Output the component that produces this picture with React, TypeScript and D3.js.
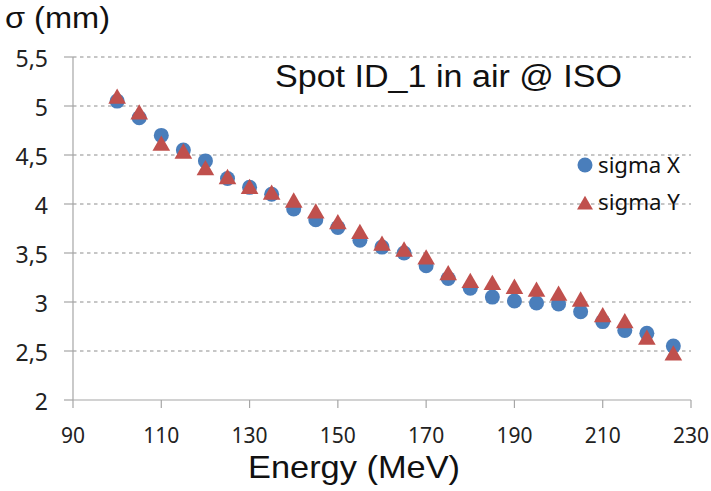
import React from "react";
import * as d3 from "d3";

const energies = [100, 105, 110, 115, 120, 125, 130, 135, 140, 145, 150, 155, 160, 165, 170, 175, 180, 185, 190, 195, 200, 205, 210, 215, 220, 226];
const sigmaX = [5.05, 4.88, 4.70, 4.55, 4.44, 4.26, 4.17, 4.10, 3.95, 3.84, 3.76, 3.63, 3.56, 3.50, 3.37, 3.24, 3.14, 3.05, 3.01, 2.99, 2.98, 2.90, 2.80, 2.71, 2.68, 2.55];
const sigmaY = [5.09, 4.93, 4.61, 4.53, 4.36, 4.27, 4.17, 4.11, 4.03, 3.92, 3.81, 3.71, 3.59, 3.53, 3.45, 3.29, 3.21, 3.19, 3.15, 3.12, 3.08, 3.02, 2.86, 2.80, 2.63, 2.47];
const xTicks = [90, 110, 130, 150, 170, 190, 210, 230];
const yTicks = [2, 2.5, 3, 3.5, 4, 4.5, 5, 5.5];
const seriesNames = ["sigma X", "sigma Y"];

const W = 711;
const H = 491;
const FONT = "'Noto Sans', 'Open Sans', sans-serif";
const ARIAL = "'Liberation Sans', Arial, sans-serif";

export default function App() {
  const x = d3.scaleLinear().domain([90, 230]).range([73, 691]);
  const y = d3.scaleLinear().domain([2, 5.5]).range([400, 57]);
  const fmt = (v: number) => String(v).replace(".", ",");
  const tri = d3.symbol().type(d3.symbolTriangle).size(135)() as string;
  const blue = "#4a7ebb";
  const red = "#c0504d";

  return (
    <svg width={W} height={H} style={{ position: "absolute", left: 0, top: 0, background: "#fff" }}>
      <rect width={W} height={H} fill="#fff" />
      {yTicks.filter((t) => t > 2).map((t) => (
        <line key={"g" + t} x1={x(90)} x2={x(230)} y1={y(t)} y2={y(t)} stroke="#b4b4b4" strokeWidth={1.5} strokeDasharray="3.5,3.5" />
      ))}
      <line x1={x(90)} x2={x(90)} y1={y(2)} y2={y(5.5)} stroke="#a6a6a6" strokeWidth={1.2} />
      <line x1={x(90)} x2={x(230)} y1={y(2)} y2={y(2)} stroke="#a6a6a6" strokeWidth={1.2} />
      {yTicks.map((t) => (
        <g key={"y" + t}>
          <line x1={x(90) - 9} x2={x(90)} y1={y(t)} y2={y(t)} stroke="#a6a6a6" strokeWidth={1.2} />
          <text x={48} y={y(t) + 10} textAnchor="end" fontFamily={FONT} fontSize={23} fill="#222">{fmt(t)}</text>
        </g>
      ))}
      {xTicks.map((t) => (
        <g key={"x" + t}>
          <line x1={x(t)} x2={x(t)} y1={y(2)} y2={y(2) + 8} stroke="#a6a6a6" strokeWidth={1.2} />
          <text x={x(t)} y={443} textAnchor="middle" fontFamily={FONT} fontSize={21} fill="#222">{t}</text>
        </g>
      ))}
      <text x={248} y={478} textAnchor="start" fontFamily={ARIAL} fontSize={32} textLength={212} lengthAdjust="spacingAndGlyphs" fill="#111">Energy (MeV)</text>
      <text x={5} y={28} textAnchor="start" fontFamily={ARIAL} fontSize={30} textLength={105} lengthAdjust="spacingAndGlyphs" fill="#111">σ (mm)</text>
      <text x={275} y={87} textAnchor="start" fontFamily={ARIAL} fontSize={31} textLength={347} lengthAdjust="spacingAndGlyphs" fill="#111">Spot ID_1 in air @ ISO</text>
      {energies.map((e, i) => (
        <circle key={"c" + i} cx={x(e)} cy={y(sigmaX[i])} r={7.5} fill={blue} />
      ))}
      {energies.map((e, i) => (
        <path key={"t" + i} d={tri} transform={`translate(${x(e)},${y(sigmaY[i]) + 1.5})`} fill={red} />
      ))}
      <circle cx={585} cy={165} r={7.5} fill={blue} />
      <text x={598} y={173} fontFamily={FONT} fontSize={21} textLength={82} lengthAdjust="spacingAndGlyphs" fill="#111">{seriesNames[0]}</text>
      <path d={d3.symbol().type(d3.symbolTriangle).size(110)() as string} transform="translate(585,205)" fill={red} />
      <text x={598} y={210} fontFamily={FONT} fontSize={21} textLength={82} lengthAdjust="spacingAndGlyphs" fill="#111">{seriesNames[1]}</text>
    </svg>
  );
}
